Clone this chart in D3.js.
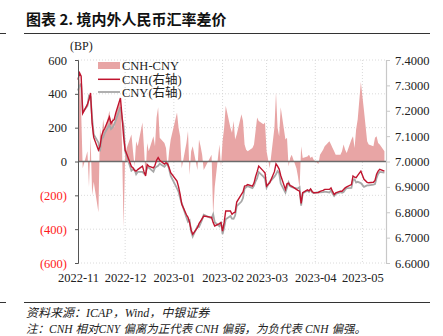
<!DOCTYPE html>
<html><head><meta charset="utf-8">
<script src="https://cdn.jsdelivr.net/npm/d3@7"></script>
<style>
html,body{margin:0;padding:0;background:#fff;}
svg{display:block;}
</style></head>
<body>
<svg id="c" width="443" height="336"></svg>
<script>
const titleText = "图表 2. 境内外人民币汇率差价";
const sourceText = "资料来源：ICAP，Wind，中银证券";
const noteText = "注：CNH 相对CNY 偏离为正代表 CNH 偏弱，为负代表 CNH 偏强。";
const seriesNames = ["CNH-CNY", "CNH(右轴)", "CNY(右轴)"];
const leftTicks = [-600, -400, -200, 0, 200, 400, 600];
const rightTicks = [6.6, 6.7, 6.8, 6.9, 7.0, 7.1, 7.2, 7.3, 7.4];
const monthTicks = ["2022-11-01","2022-12-01","2023-01-01","2023-02-01","2023-03-01","2023-04-01","2023-05-01"];

const dates = ["2022-11-01","2022-11-02","2022-11-03","2022-11-04","2022-11-07","2022-11-08","2022-11-09","2022-11-10","2022-11-11",
"2022-11-14","2022-11-15","2022-11-16","2022-11-17","2022-11-18","2022-11-21","2022-11-22","2022-11-23","2022-11-24","2022-11-25",
"2022-11-28","2022-11-29","2022-11-30","2022-12-01","2022-12-02","2022-12-05","2022-12-06","2022-12-07","2022-12-08","2022-12-09",
"2022-12-12","2022-12-13","2022-12-14","2022-12-15","2022-12-16","2022-12-19","2022-12-20","2022-12-21","2022-12-22","2022-12-23",
"2022-12-26","2022-12-27","2022-12-28","2022-12-29","2022-12-30","2023-01-03","2023-01-04","2023-01-05","2023-01-06",
"2023-01-09","2023-01-10","2023-01-11","2023-01-12","2023-01-13","2023-01-16","2023-01-17","2023-01-18","2023-01-19","2023-01-20",
"2023-01-25","2023-01-26","2023-01-27","2023-01-30","2023-01-31","2023-02-01","2023-02-02","2023-02-03",
"2023-02-06","2023-02-07","2023-02-08","2023-02-09","2023-02-10","2023-02-13","2023-02-14","2023-02-15","2023-02-16","2023-02-17",
"2023-02-20","2023-02-21","2023-02-22","2023-02-23","2023-02-24","2023-02-27","2023-02-28","2023-03-01","2023-03-02","2023-03-03",
"2023-03-06","2023-03-07","2023-03-08","2023-03-09","2023-03-10","2023-03-13","2023-03-14","2023-03-15","2023-03-16","2023-03-17",
"2023-03-20","2023-03-21","2023-03-22","2023-03-23","2023-03-24","2023-03-27","2023-03-28","2023-03-29","2023-03-30","2023-03-31",
"2023-04-03","2023-04-04","2023-04-06","2023-04-07","2023-04-10","2023-04-11","2023-04-12","2023-04-13","2023-04-14",
"2023-04-17","2023-04-18","2023-04-19","2023-04-20","2023-04-21","2023-04-24","2023-04-25","2023-04-26","2023-04-27","2023-04-28",
"2023-04-30","2023-05-02","2023-05-04","2023-05-05","2023-05-08","2023-05-09","2023-05-10","2023-05-11","2023-05-12","2023-05-15"];

const spread = [430,510,300,-40,60,-150,150,-200,-120,
-300,200,120,250,180,300,220,260,200,280,
360,100,-390,40,80,160,60,-30,120,90,
230,80,-90,110,60,150,90,260,320,140,
110,80,-40,60,130,290,200,150,-40,
110,180,-80,60,90,-50,130,90,40,-50,
40,-320,-150,100,-30,120,200,330,
200,170,240,130,160,280,240,100,70,60,
80,100,180,260,240,220,230,60,10,-40,
200,410,200,150,320,130,140,-30,20,40,
-40,-90,-160,90,20,30,40,20,30,10,
-15,40,70,90,120,100,80,60,40,
40,60,100,70,50,130,150,80,190,250,
470,300,120,100,90,140,150,110,100,60];

const cnh = [7.323,7.349,7.336,7.190,7.225,7.244,7.270,7.150,7.095,
7.045,7.060,7.100,7.120,7.130,7.175,7.150,7.160,7.165,7.190,
7.250,7.180,7.100,7.045,7.030,6.980,6.975,6.965,6.962,6.968,
6.982,6.960,6.943,6.988,6.982,6.975,6.985,7.005,7.015,7.005,
6.990,6.995,6.990,6.975,6.956,6.923,6.900,6.870,6.832,
6.790,6.780,6.760,6.730,6.713,6.739,6.755,6.765,6.775,6.785,
6.780,6.760,6.746,6.755,6.759,6.726,6.760,6.805,
6.805,6.792,6.798,6.800,6.840,6.870,6.880,6.903,6.905,6.909,
6.903,6.915,6.940,6.960,6.982,6.962,6.955,6.903,6.910,6.916,
6.960,6.991,6.982,6.970,6.945,6.890,6.912,6.915,6.905,6.903,
6.890,6.886,6.883,6.835,6.877,6.888,6.884,6.892,6.882,6.877,
6.878,6.882,6.886,6.890,6.890,6.896,6.882,6.870,6.876,
6.883,6.883,6.890,6.896,6.900,6.909,6.943,6.938,6.936,6.945,
6.962,6.930,6.918,6.916,6.918,6.925,6.950,6.962,6.969,6.962];

const cny = [7.280,7.298,7.306,7.194,7.219,7.259,7.255,7.170,7.107,
7.075,7.040,7.088,7.095,7.112,7.145,7.128,7.134,7.145,7.162,
7.214,7.170,7.139,7.041,7.022,6.964,6.969,6.968,6.950,6.959,
6.959,6.952,6.952,6.977,6.976,6.960,6.976,6.979,6.983,6.991,
6.979,6.987,6.994,6.969,6.943,6.894,6.880,6.855,6.836,
6.779,6.762,6.768,6.724,6.704,6.744,6.742,6.756,6.771,6.790,
6.776,6.792,6.761,6.745,6.762,6.714,6.740,6.772,
6.785,6.775,6.774,6.787,6.824,6.842,6.856,6.893,6.898,6.903,
6.895,6.905,6.922,6.934,6.958,6.940,6.932,6.897,6.909,6.920,
6.940,6.950,6.962,6.955,6.913,6.877,6.898,6.918,6.903,6.899,
6.894,6.895,6.899,6.826,6.875,6.885,6.880,6.890,6.879,6.876,
6.8795,6.878,6.879,6.881,6.878,6.886,6.874,6.864,6.872,
6.879,6.877,6.880,6.889,6.895,6.896,6.928,6.930,6.917,6.920,
6.915,6.900,6.906,6.906,6.909,6.911,6.935,6.951,6.959,6.956];

const parse = d3.utcParse("%Y-%m-%d");
const rows = dates.map((d, i) => ({date: parse(d), spread: spread[i], cnh: cnh[i], cny: cny[i]}));

const svg = d3.select("#c");
const L = 78, R = 386, T = 60, B = 263;
const serif = "'Liberation Serif','Times New Roman',serif";
const cjk = "'Liberation Serif','Noto Sans CJK SC',serif";

const x = d3.scaleUtc().domain([parse("2022-11-01"), parse("2023-05-16")]).range([L, R]);
const yL = d3.scaleLinear().domain([-600, 600]).range([B, T]);
const yR = d3.scaleLinear().domain([6.6, 7.4]).range([B, T]);

// title
svg.append("text").attr("x", 26).attr("y", 25).text(titleText)
  .attr("font-family", "'Noto Sans CJK SC',sans-serif").attr("font-weight", "bold")
  .attr("font-size", 15).attr("fill", "#111");
svg.append("line").attr("x1", 24).attr("x2", 430).attr("y1", 33.5).attr("y2", 33.5).attr("stroke", "#333").attr("stroke-width", 1);
svg.append("line").attr("x1", 0).attr("x2", 6).attr("y1", 33.5).attr("y2", 33.5).attr("stroke", "#333").attr("stroke-width", 1);

// gridlines
const grid = svg.append("g");
leftTicks.filter(v => v !== 0).forEach(v => {
  grid.append("line").attr("x1", L).attr("x2", R).attr("y1", yL(v)).attr("y2", yL(v))
    .attr("stroke", "#d0d0d0").attr("stroke-width", 0.8).attr("stroke-dasharray", "1,2");
});
monthTicks.slice(1).forEach(m => {
  grid.append("line").attr("x1", x(parse(m))).attr("x2", x(parse(m))).attr("y1", T).attr("y2", B)
    .attr("stroke", "#d0d0d0").attr("stroke-width", 0.8).attr("stroke-dasharray", "1,2");
});

// area
const area = d3.area().x(d => x(d.date)).y0(yL(0)).y1(d => yL(d.spread));
svg.append("path").datum(rows).attr("d", area).attr("fill", "#e8a5a5");

// zero line
svg.append("line").attr("x1", L).attr("x2", R).attr("y1", yL(0)).attr("y2", yL(0))
  .attr("stroke", "#6b6b6b").attr("stroke-width", 1.3);

// lines
const lineCny = d3.line().x(d => x(d.date)).y(d => yR(d.cny));
const lineCnh = d3.line().x(d => x(d.date)).y(d => yR(d.cnh));
svg.append("path").datum(rows).attr("d", lineCny).attr("fill", "none").attr("stroke", "#a8a8a8").attr("stroke-width", 1.8);
svg.append("path").datum(rows).attr("d", lineCnh).attr("fill", "none").attr("stroke", "#c0142e").attr("stroke-width", 1.4);

// left axis
const axL = d3.axisLeft(yL).tickValues(leftTicks).tickSize(3).tickPadding(8)
  .tickFormat(v => v < 0 ? "(" + Math.abs(v) + ")" : String(v));
const gL = svg.append("g").attr("transform", `translate(${L},0)`).call(axL);
gL.select(".domain").attr("stroke", "#555");
gL.selectAll(".tick line").attr("stroke", "#555");
gL.selectAll(".tick text").attr("font-family", serif).attr("font-size", 12.5)
  .attr("fill", v => v < 0 ? "#ff1a1a" : "#222");

// right axis
const axR = d3.axisRight(yR).tickValues(rightTicks).tickSize(4).tickPadding(5).tickFormat(d3.format(".4f"));
const gR = svg.append("g").attr("transform", `translate(${R},0)`).call(axR);
gR.select(".domain").attr("stroke", "#c8c8c8").attr("stroke-width", 1.2);
gR.selectAll(".tick line").attr("stroke", "#c8c8c8");
gR.selectAll(".tick text").attr("font-family", serif).attr("font-size", 12.5).attr("fill", "#222");

// bottom axis labels
const axB = d3.axisBottom(x).tickValues(monthTicks.map(parse)).tickSize(0).tickPadding(10).tickFormat(d3.utcFormat("%Y-%m"));
const gB = svg.append("g").attr("transform", `translate(0,${B})`).call(axB);
gB.select(".domain").remove();
gB.selectAll(".tick text").attr("font-family", serif).attr("font-size", 12.5).attr("fill", "#222");

// (BP)
svg.append("text").attr("x", 70).attr("y", 50).text("(BP)")
  .attr("font-family", serif).attr("font-size", 12).attr("fill", "#222");

// legend
const lg = svg.append("g");
lg.append("rect").attr("x", 98).attr("y", 62).attr("width", 22).attr("height", 7).attr("fill", "#e8a5a5");
lg.append("line").attr("x1", 98).attr("x2", 120).attr("y1", 79.3).attr("y2", 79.3).attr("stroke", "#c0142e").attr("stroke-width", 1.5);
lg.append("line").attr("x1", 98).attr("x2", 120).attr("y1", 92).attr("y2", 92).attr("stroke", "#a8a8a8").attr("stroke-width", 1.8);
[70, 83.5, 96.5].forEach((yy, i) => {
  lg.append("text").attr("x", 122).attr("y", yy).text(seriesNames[i])
    .attr("font-family", cjk).attr("font-size", 12.5).attr("fill", "#222");
});

// footer
svg.append("line").attr("x1", 24).attr("x2", 430).attr("y1", 302.5).attr("y2", 302.5).attr("stroke", "#333").attr("stroke-width", 1);
svg.append("line").attr("x1", 0).attr("x2", 6).attr("y1", 302.5).attr("y2", 302.5).attr("stroke", "#333").attr("stroke-width", 1);
svg.append("text").attr("x", 26).attr("y", 317).text(sourceText)
  .attr("font-family", cjk).attr("font-style", "italic").attr("font-size", 12).attr("fill", "#222");
svg.append("text").attr("x", 26).attr("y", 333).text(noteText)
  .attr("font-family", cjk).attr("font-style", "italic").attr("font-size", 11.5).attr("fill", "#222");
</script>
</body></html>
